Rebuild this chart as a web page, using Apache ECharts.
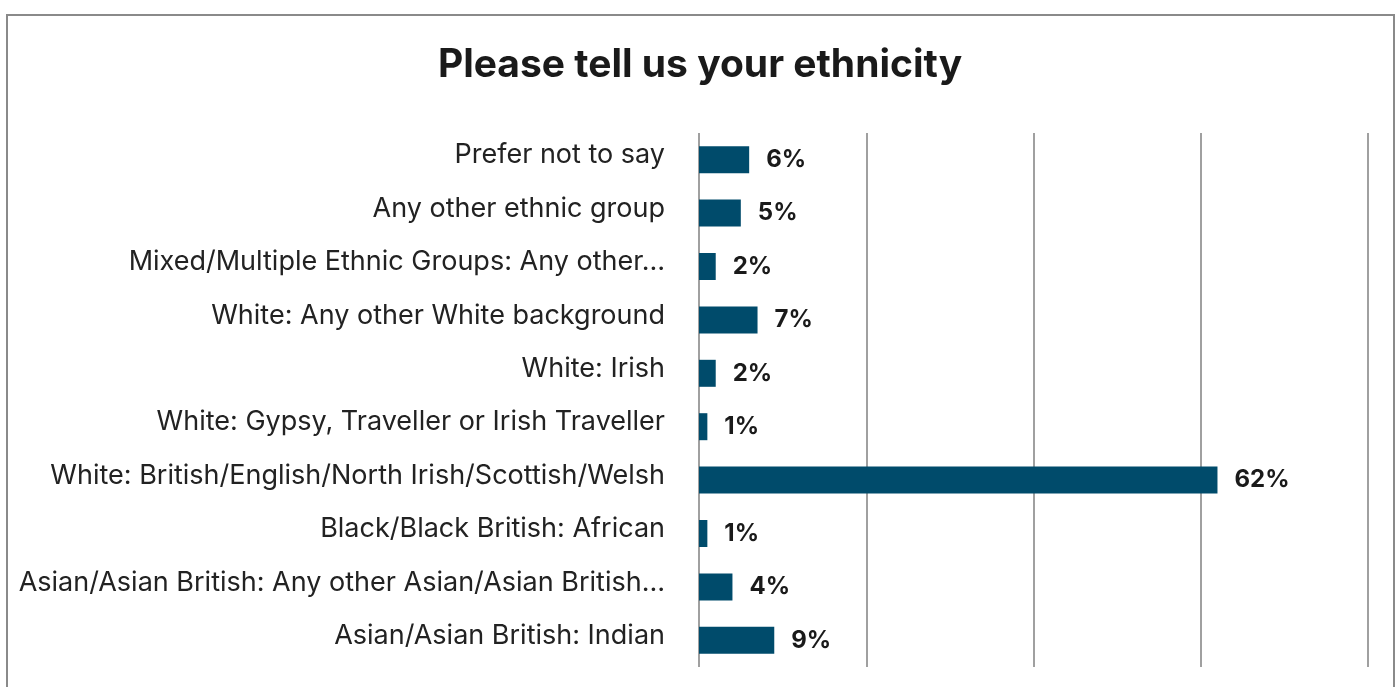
<!DOCTYPE html>
<html>
<head>
<meta charset="utf-8">
<script src="https://cdn.jsdelivr.net/npm/echarts@6/dist/echarts.min.js"></script>
<style>
  html, body { margin: 0; padding: 0; background: #fff; overflow: hidden; }
  #frame { position: absolute; left: 6px; top: 14px; width: 1389px; height: 700px; border: 2px solid #8a8a8a; box-sizing: border-box; }
  #chart { position: absolute; left: 0; top: 0; width: 1400px; height: 687px; }
</style>
</head>
<body>
<div id="frame"></div>
<div id="chart"></div>
<script>
// Survey responses, listed top to bottom
const categories = [
  'Prefer not to say',
  'Any other ethnic group',
  'Mixed/Multiple Ethnic Groups: Any other…',
  'White: Any other White background',
  'White: Irish',
  'White: Gypsy, Traveller or Irish Traveller',
  'White: British/English/North Irish/Scottish/Welsh',
  'Black/Black British: African',
  'Asian/Asian British: Any other Asian/Asian British…',
  'Asian/Asian British: Indian'
];
const shares = [6, 5, 2, 7, 2, 1, 62, 1, 4, 9];

const chart = echarts.init(document.getElementById('chart'), null, { renderer: 'canvas' });
const fontFamily = 'Inter, "Noto Sans", sans-serif';

chart.setOption({
  backgroundColor: 'transparent',
  animation: false,
  title: {
    text: 'Please tell us your ethnicity',
    left: 'center',
    top: 41,
    textStyle: { fontFamily, fontSize: 39, fontWeight: 'bold', color: '#1a1a1a' }
  },
  grid: { left: 699, right: 32, top: 133, bottom: 20, containLabel: false },
  xAxis: {
    type: 'value',
    min: 0,
    max: 80,
    interval: 20,
    axisLabel: { show: false },
    axisLine: { show: false },
    axisTick: { show: false },
    splitLine: { show: true, lineStyle: { color: '#a0a0a0', width: 2 } }
  },
  yAxis: {
    type: 'category',
    inverse: true,
    data: categories,
    axisLine: { show: false },
    axisTick: { show: false },
    axisLabel: {
      margin: 34,
      fontFamily,
      fontSize: 27,
      color: '#222',
      verticalAlign: 'bottom',
      lineHeight: 9
    }
  },
  series: [{
    type: 'bar',
    data: shares,
    barWidth: 27,
    itemStyle: { color: '#004b6b' },
    label: {
      show: true,
      position: 'right',
      distance: 17,
      formatter: p => p.value + '%',
      fontFamily,
      fontSize: 24,
      fontWeight: 'bold',
      color: '#1a1a1a'
    }
  }]
});
</script>
</body>
</html>
